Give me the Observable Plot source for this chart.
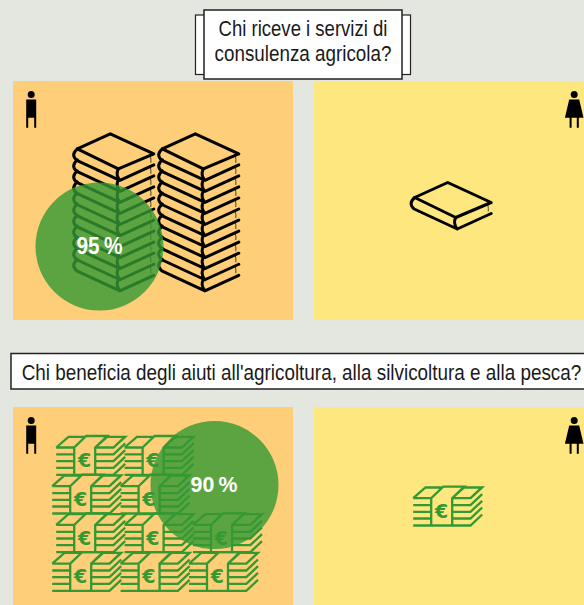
<!DOCTYPE html>
<html lang="it">
<head>
<meta charset="utf-8">
<style>
  html, body { margin: 0; padding: 0; background: #E4E6E0; }
  svg { display: block; }
</style>
<script src="https://cdn.jsdelivr.net/npm/d3@7"></script>
<script src="https://cdn.jsdelivr.net/npm/@observablehq/plot@0.6"></script>
</head>
<body>
<div id="chart"></div>
<script>
// --- values ---
const questions = ["Chi riceve i servizi di\nconsulenza agricola?",
  "Chi beneficia degli aiuti all'agricoltura, alla silvicoltura e alla pesca?"];
const menShare = [95, 90];
const bookStacksMen = [11, 11];
const bookStacksWomen = [1];
const moneyRowsMen = [2, 2, 3, 3];
const moneyRowsWomen = [1];

// --- layout ---
const W = 584, H = 605;
const ORANGE = "#FFCE78", YELLOW = "#FFE780", GREEN = "#339933", BG = "#E4E6E0";
const FONT = "'Liberation Sans', sans-serif";

const panels = [
  {x1: 13, x2: 293, y1: 81, y2: 320, fill: ORANGE},
  {x1: 314, x2: 584, y1: 81, y2: 320, fill: YELLOW},
  {x1: 13, x2: 293, y1: 407, y2: 605, fill: ORANGE},
  {x1: 314, x2: 584, y1: 407, y2: 605, fill: YELLOW}
];
const boxesBack = [{x1: 195.5, x2: 410.5, y1: 15, y2: 74.5}];
const boxesFront = [
  {x1: 204, x2: 402, y1: 10, y2: 79},
  {x1: 11, x2: 592, y1: 353.5, y2: 389}
];
const titleLines = [
  {x: 302.5, y: 35.7, w: 169, t: questions[0].split("\n")[0]},
  {x: 302.5, y: 60, w: 177, t: questions[0].split("\n")[1]},
  {x: 301, y: 379.3, w: 560, t: questions[1]}
];
const shareCircles = [
  {x: 99, y: 246, tx: 99, w: 46, v: menShare[0]},
  {x: 214, y: 484.5, tx: 213.5, w: 47, v: menShare[1]}
];

// mark texts with the condensed width of the reference type
const condensed = (data) => (index, scales, values, dims, ctx, next) => {
  const g = next(index, scales, values, dims, ctx);
  d3.select(g).selectAll("text").each(function (_, j) {
    this.setAttribute("data-w", data[index[j]].w);
  });
  return g;
};

// --- pictogram glyphs as d3 symbols ---
const sym = draw => ({draw: (c, size) => draw(c, Math.sqrt(size / Math.PI))});
const man = sym((c) => {
  c.moveTo(3.5, 0); c.arc(0, 0, 3.5, 0, 2 * Math.PI);
  c.moveTo(-5, 5); c.lineTo(5, 5); c.lineTo(5, 33.3); c.lineTo(3, 33.3); c.lineTo(3, 23.3);
  c.lineTo(-3, 23.3); c.lineTo(-3, 33.3); c.lineTo(-5, 33.3); c.closePath();
});
const woman = sym((c) => {
  c.moveTo(3.5, 0); c.arc(0, 0, 3.5, 0, 2 * Math.PI);
  c.moveTo(-5, 5); c.lineTo(5, 5); c.lineTo(9.3, 23.3); c.lineTo(4.6, 23.3); c.lineTo(4.6, 33.3);
  c.lineTo(2.6, 33.3); c.lineTo(2.6, 23.3); c.lineTo(-2.6, 23.3); c.lineTo(-2.6, 33.3);
  c.lineTo(-4.6, 33.3); c.lineTo(-4.6, 23.3); c.lineTo(-9.3, 23.3); c.closePath();
});
const bookLid = sym((c) => {
  c.moveTo(0, 0); c.lineTo(43.5, 20); c.lineTo(8, 35); c.lineTo(-33, 15); c.closePath();
});
const bookLayer = sym((c) => {
  c.moveTo(-33, 15); c.quadraticCurveTo(-40, 21, -33.5, 26.5);
  c.lineTo(9.6, 46.5); c.lineTo(43.5, 31);
  c.moveTo(8, 35); c.quadraticCurveTo(5, 41, 9.6, 46.5);
});
const bookPages = sym((c) => {
  c.moveTo(40, 22); c.quadraticCurveTo(41, 26, 40.5, 29);
});
const money = sym((c) => {
  const ys = [0, -7, -13.7, -20.4, -27.3];
  for (const y of ys) {
    c.moveTo(0, y); c.lineTo(18, y);
    c.moveTo(39, y); c.lineTo(57.3, y); c.lineTo(69, y - 11);
  }
  c.moveTo(0, -27.3); c.lineTo(12.3, -38); c.lineTo(29, -38);
  c.moveTo(18, 0); c.lineTo(39, 0);
  c.moveTo(18, 0); c.lineTo(18, -27.3); c.lineTo(30, -38.8); c.lineTo(51, -38.8); c.lineTo(39, -27.3); c.lineTo(39, 0);
  c.moveTo(39, -27.3); c.lineTo(51, -38); c.lineTo(69, -38); c.lineTo(57.3, -27.3);
});

// --- placing the pictograms from the counts ---
const books = [];
const lids = [];
const placeBooks = (stacks, x0, dx, y0) => stacks.forEach((n, s) => {
  lids.push({x: x0 + s * dx, y: y0});
  d3.range(n).forEach(i => books.push({x: x0 + s * dx, y: y0 + i * 11.05}));
});
placeBooks(bookStacksMen, 109.8, 85, 133.3);
placeBooks(bookStacksWomen, 447.2, 0, 182);

const bills = [];
const placeBills = (rows, xs, y0, dx, dy) => rows.forEach((n, r) =>
  d3.range(n).forEach(i => bills.push({x: xs[r % xs.length] + i * dx, y: y0 + r * dy})));
placeBills(moneyRowsMen, [55.7, 51.7], 474.3, 68.4, 38.7);
placeBills(moneyRowsWomen, [412.7], 525, 0, 0);

const people = [
  {x: 30.7, y: 94, s: man}, {x: 30.7, y: 420, s: man},
  {x: 573.7, y: 94, s: woman}, {x: 573.7, y: 420, s: woman}
];

const chart = Plot.plot({
  width: W, height: H, margin: 0,
  style: {background: BG, fontFamily: FONT},
  x: {domain: [0, W], range: [0, W], axis: null},
  y: {domain: [0, H], range: [0, H], axis: null},
  marks: [
    Plot.rect(panels, {x1: "x1", x2: "x2", y1: "y1", y2: "y2", fill: "fill", inset: 0}),
    Plot.rect(boxesBack, {x1: "x1", x2: "x2", y1: "y1", y2: "y2", fill: "white", stroke: "#222", strokeWidth: 1.2}),
    Plot.rect(boxesFront, {x1: "x1", x2: "x2", y1: "y1", y2: "y2", fill: "white", stroke: "#222", strokeWidth: 1.5}),
    Plot.text(titleLines, {x: "x", y: "y", text: "t", fontSize: 21.5, fill: "#1a1a1a", lineAnchor: "bottom", textAnchor: "middle", fontFamily: FONT, render: condensed(titleLines)}),
    Plot.dot(people, {x: "x", y: "y", r: 1, symbol: d => d.s, fill: "black", stroke: "none"}),
    Plot.dot(lids, {x: "x", y: "y", r: 1, symbol: () => bookLid, fill: "none", stroke: "black", strokeWidth: 3, strokeLinejoin: "round", strokeLinecap: "round"}),
    Plot.dot(books, {x: "x", y: "y", r: 1, symbol: () => bookLayer, fill: "none", stroke: "black", strokeWidth: 3, strokeLinejoin: "round", strokeLinecap: "round"}),
    Plot.dot(books, {x: "x", y: "y", r: 1, symbol: () => bookPages, fill: "none", stroke: "black", strokeWidth: 0.7}),
    Plot.dot(bills, {x: "x", y: "y", r: 1, symbol: () => money, fill: "none", stroke: GREEN, strokeWidth: 2.3}),
    Plot.text(bills, {x: d => d.x + 28.3, y: d => d.y - 13.6, text: () => "€", fontSize: 19, fontWeight: "bold", fill: GREEN, fontFamily: "'DejaVu Sans', sans-serif"}),
    Plot.dot(shareCircles, {x: "x", y: "y", r: 64, fill: GREEN, fillOpacity: 0.8, stroke: "none"}),
    Plot.text(shareCircles, {x: "tx", y: "y", text: d => d.v + "\u2009%", fontSize: 23, fontWeight: "bold", fill: "white", fontFamily: FONT, render: condensed(shareCircles)})
  ]
});
document.getElementById("chart").append(chart);
// squeeze the Liberation Sans texts horizontally to the reference widths
chart.querySelectorAll("text[data-w]").forEach(t => {
  const k = +t.getAttribute("data-w") / t.getComputedTextLength();
  const tr = t.getAttribute("transform") || "";
  t.setAttribute("transform", `${tr} scale(${k.toFixed(4)},1)`);
});
</script>
</body>
</html>
